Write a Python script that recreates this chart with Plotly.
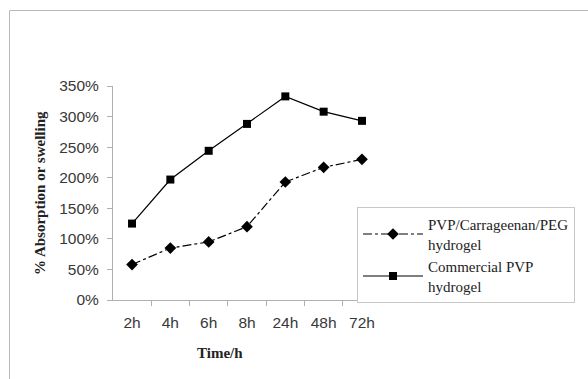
import plotly.graph_objects as go

categories = ["2h", "4h", "6h", "8h", "24h", "48h", "72h"]
pvp_carr_peg = [0.58, 0.85, 0.95, 1.20, 1.93, 2.17, 2.30]
commercial_pvp = [1.25, 1.97, 2.44, 2.88, 3.33, 3.08, 2.93]
y_ticks = [0, 0.5, 1.0, 1.5, 2.0, 2.5, 3.0, 3.5]

W, H = 588, 379
L, R, T, B = 113, 207, 86, 79
pw, ph = W - L - R, H - T - B

def px_x(x):
    return (x - L) / pw

def px_y(y):
    return (H - B - y) / ph

fig = go.Figure()
fig.add_trace(go.Scatter(
    x=categories, y=pvp_carr_peg, mode="lines+markers",
    name="PVP/Carrageenan/PEG<br>hydrogel",
    line=dict(color="black", width=1.2, dash="dashdot"),
    marker=dict(symbol="diamond", size=9, color="black"),
))
fig.add_trace(go.Scatter(
    x=categories, y=commercial_pvp, mode="lines+markers",
    name="Commercial PVP<br>hydrogel",
    line=dict(color="black", width=1.2),
    marker=dict(symbol="square", size=8, color="black"),
))

title_font = dict(family="Liberation Serif", size=15, color="#222")
tick_font = dict(family="Liberation Sans", size=15.5, color="#383838")

fig.update_layout(
    width=W, height=H,
    margin=dict(l=L, r=R, t=T, b=B, pad=0, autoexpand=False),
    paper_bgcolor="white", plot_bgcolor="white",
    showlegend=True,
    legend=dict(
        x=px_x(357), y=px_y(207), xanchor="left", yanchor="top",
        bordercolor="#c8c8c8", borderwidth=1, bgcolor="white",
        font=dict(family="Liberation Serif", size=15, color="#222"),
        itemwidth=60, tracegroupgap=0,
    ),
    xaxis=dict(
        type="category", tickson="boundaries",
        showline=True, linecolor="#b0b0b0", linewidth=1,
        ticks="outside", ticklen=5, tickcolor="#b0b0b0",
        showgrid=False, zeroline=False,
        tickfont=tick_font, ticklabelstandoff=8,
    ),
    yaxis=dict(
        range=[0, 3.5], tickvals=y_ticks, tickformat=".0%",
        showline=True, linecolor="#b0b0b0", linewidth=1,
        ticks="outside", ticklen=5, tickcolor="#b0b0b0",
        showgrid=False, zeroline=False,
        tickfont=tick_font, ticklabelstandoff=5,
    ),
    annotations=[
        dict(text="<b>Time/h</b>", xref="paper", yref="paper",
             x=px_x(219.5), y=px_y(353), xanchor="center", yanchor="middle",
             showarrow=False, font=title_font),
        dict(text="<b>% Absorption or swelling</b>", xref="paper", yref="paper",
             x=px_x(40), y=px_y(193), xanchor="center", yanchor="middle",
             textangle=-90, showarrow=False, font=title_font),
    ],
    shapes=[
        dict(type="line", xref="paper", yref="paper",
             x0=px_x(9.5), x1=px_x(9.5), y0=px_y(H), y1=px_y(10.5),
             line=dict(color="#b8b8b8", width=1)),
        dict(type="line", xref="paper", yref="paper",
             x0=px_x(9.5), x1=px_x(W), y0=px_y(10.5), y1=px_y(10.5),
             line=dict(color="#b8b8b8", width=1)),
    ],
)

fig.write_html("out.html")
